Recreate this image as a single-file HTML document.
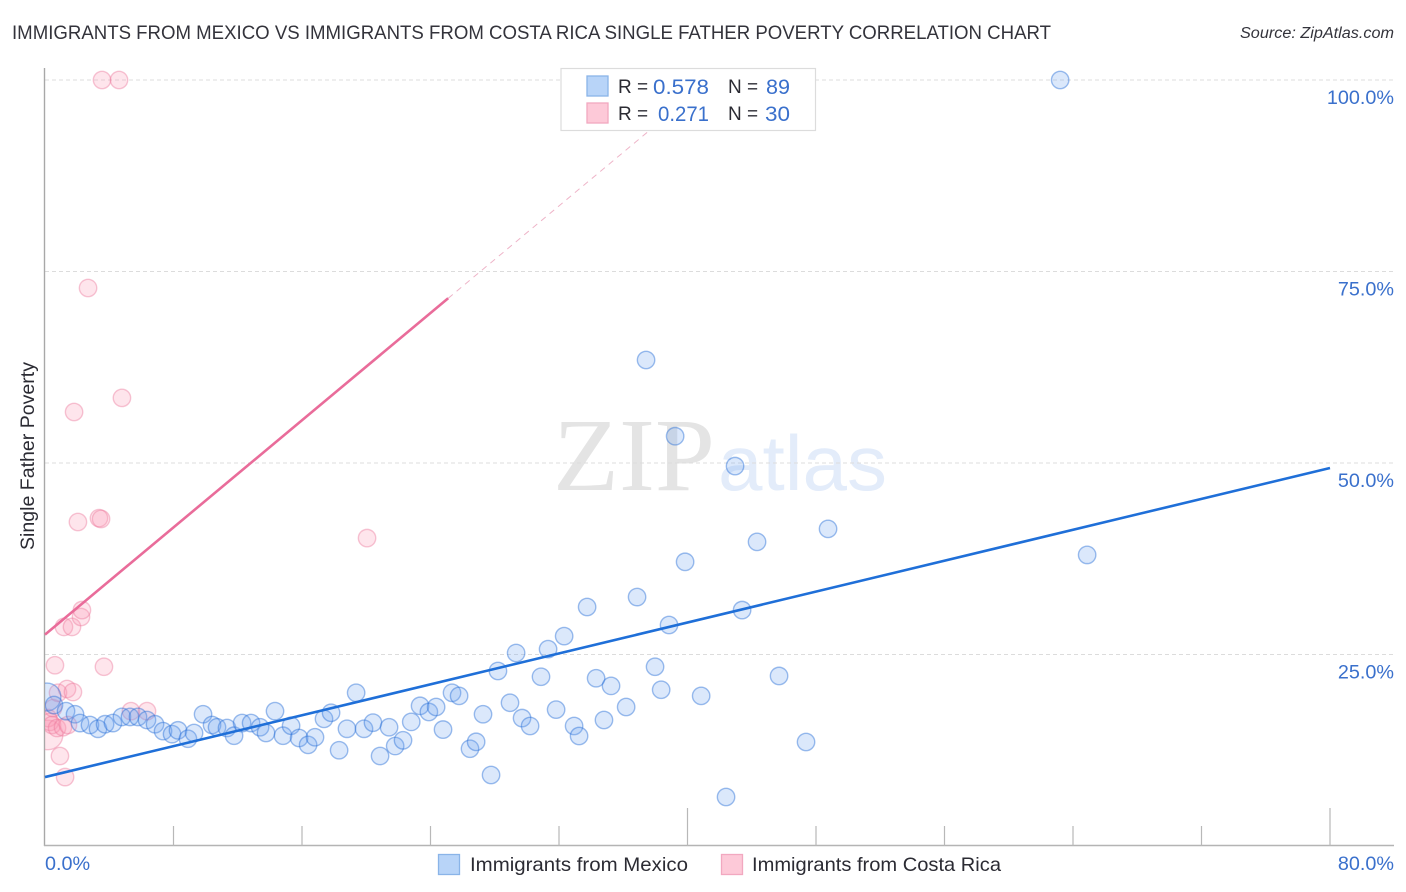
<!DOCTYPE html>
<html lang="en">
<head>
<meta charset="utf-8">
<title>Immigrants from Mexico vs Immigrants from Costa Rica Single Father Poverty Correlation Chart</title>
<style>
html,body{margin:0;padding:0;background:#fff;}
svg{display:block;font-family:"Liberation Sans",sans-serif;}
</style>
</head>
<body>
<svg id="chart" xmlns="http://www.w3.org/2000/svg" width="1406" height="892" viewBox="0 0 1406 892">
  <defs>
    <clipPath id="plot-clip"><rect x="45" y="60" width="1350" height="786"/></clipPath>
  </defs>
  <text x="12" y="39" font-size="19.5" fill="#33333b" textLength="1039" lengthAdjust="spacingAndGlyphs">IMMIGRANTS FROM MEXICO VS IMMIGRANTS FROM COSTA RICA SINGLE FATHER POVERTY CORRELATION CHART</text>
  <text x="1394" y="38" font-size="15.5" font-style="italic" fill="#33333b" text-anchor="end" textLength="154" lengthAdjust="spacingAndGlyphs">Source: ZipAtlas.com</text>
  <text x="553" y="490" font-family="'Liberation Serif',serif" font-size="104" fill="#e4e4e4" textLength="162" lengthAdjust="spacingAndGlyphs">ZIP</text>
  <text x="718" y="490" font-size="78" fill="#e3ecfa" textLength="169" lengthAdjust="spacingAndGlyphs">atlas</text>
  <g id="grid"></g>
  <g id="axes"></g>
  <g id="points" clip-path="url(#plot-clip)"></g>
  <g id="trends"></g>

  <g>
    <rect x="561" y="68.5" width="254.5" height="62" fill="#fff" stroke="#dcdcdc" stroke-width="1.2"/>
    <rect x="587" y="76" width="21" height="20" fill="#b8d4f8" stroke="#8ab4e8" stroke-width="1.3"/>
    <rect x="587" y="103" width="21" height="20" fill="#fdc9d8" stroke="#f2a8c0" stroke-width="1.3"/>
    <text x="618" y="93" font-size="19" fill="#2b2b33">R =</text>
    <text x="653" y="94" font-size="21" fill="#3a70cc" textLength="56" lengthAdjust="spacingAndGlyphs">0.578</text>
    <text x="728" y="93" font-size="19" fill="#2b2b33">N =</text>
    <text x="766" y="94" font-size="21" fill="#3a70cc" textLength="24" lengthAdjust="spacingAndGlyphs">89</text>
    <text x="618" y="120" font-size="19" fill="#2b2b33">R =</text>
    <text x="658" y="121" font-size="21" fill="#3a70cc" textLength="51" lengthAdjust="spacingAndGlyphs">0.271</text>
    <text x="728" y="120" font-size="19" fill="#2b2b33">N =</text>
    <text x="765" y="121" font-size="21" fill="#3a70cc" textLength="25" lengthAdjust="spacingAndGlyphs">30</text>
  </g>

  <g>
    <rect x="438.5" y="854.5" width="21" height="20" fill="#b8d4f8" stroke="#8ab4e8" stroke-width="1.3"/>
    <text x="470" y="871" font-size="19.5" fill="#2b2b33" textLength="218" lengthAdjust="spacingAndGlyphs">Immigrants from Mexico</text>
    <rect x="721.5" y="854.5" width="21" height="20" fill="#fdc9d8" stroke="#f2a8c0" stroke-width="1.3"/>
    <text x="752" y="871" font-size="19.5" fill="#2b2b33" textLength="249" lengthAdjust="spacingAndGlyphs">Immigrants from Costa Rica</text>
  </g>

  <text transform="translate(34,456) rotate(-90)" font-size="19" fill="#2b2b33" text-anchor="middle" textLength="188" lengthAdjust="spacingAndGlyphs">Single Father Poverty</text>
</svg>
<script>
const yTickValues = [25, 50, 75, 100];
const yTickLabels = ['25.0%', '50.0%', '75.0%', '100.0%'];
const xTickValues = [8, 16, 24, 32, 40, 48, 56, 64, 72, 80];
const xMajorTicks = [40, 80];
const xEdgeLabels = ['0.0%', '80.0%'];

const mexicoX = [0.12,0.56,1.31,1.87,2.18,2.8,3.3,3.74,4.23,4.79,5.29,5.79,6.35,6.85,7.35,7.91,8.28,8.9,9.28,9.84,10.4,10.71,11.33,11.77,12.27,12.83,13.39,13.76,14.32,14.82,15.32,15.82,16.38,16.81,17.37,17.81,18.31,18.8,19.37,19.86,20.42,20.86,21.42,21.8,22.29,22.8,23.35,23.9,24.35,24.78,25.34,25.78,26.46,26.84,27.27,27.77,28.2,28.95,29.33,29.7,30.2,30.88,31.32,31.82,32.32,32.94,33.25,33.75,34.31,34.8,35.24,36.18,36.86,37.42,37.98,38.36,38.85,39.23,39.85,40.85,42.4,42.96,43.4,44.33,45.7,47.38,48.75,63.2,64.88];
const mexicoY = [19.45,18.4,17.6,17.2,16.05,15.8,15.3,15.9,16.05,16.85,16.85,16.85,16.45,15.9,15.0,14.6,15.1,14.0,14.75,17.2,15.8,15.5,15.4,14.4,16.05,16.05,15.5,14.75,17.6,14.4,15.7,14.1,13.2,14.2,16.6,17.4,12.5,15.3,20.0,15.3,16.1,11.75,15.5,13.05,13.8,16.2,18.3,17.5,18.15,15.2,20.0,19.6,12.7,13.6,17.2,9.27,22.85,18.7,25.2,16.7,15.67,22.1,25.7,17.8,27.4,15.67,14.36,31.2,21.9,16.45,20.9,18.15,32.5,63.45,23.4,20.4,28.85,53.5,37.1,19.6,6.4,49.6,30.8,39.7,22.2,13.58,41.4,100,38.0];
const mexicoSizes = [1.6];

const costaRicaX = [0.19,0.19,0.31,0.44,0.5,0.62,0.75,0.81,0.93,1.12,1.18,1.25,1.37,1.43,1.68,1.74,1.81,2.05,2.24,2.3,2.68,3.36,3.49,3.55,3.67,4.61,4.79,5.35,6.35,20.05];
const costaRicaY = [14.5,16.7,16.2,15.8,18.0,23.6,15.4,20.0,11.75,15.5,28.6,9.0,20.5,15.8,28.6,20.1,56.66,42.3,29.9,30.8,72.85,42.8,42.7,100,23.4,100,58.5,17.6,17.6,40.2];
const costaRicaSizes = [1.7];

const mexicoTrendX = [0, 80];
const mexicoTrendY = [9.0, 49.35];
const costaRicaTrendX = [0, 25.1];
const costaRicaTrendY = [27.6, 71.5];
const costaRicaDashEndX = [41.4];
const costaRicaDashEndY = [100];

const NS = 'http://www.w3.org/2000/svg';
const xScale = function (v) { return 45 + v * 16.0625; };
const yScale = function (v) { return 846 - v * 7.66; };
const make = function (parent, tag, props, content) {
  const node = document.createElementNS(NS, tag);
  Object.keys(props).forEach(function (k) { node.setAttribute(k, props[k]); });
  if (content !== undefined) node.textContent = content;
  parent.appendChild(node);
  return node;
};

const gridGroup = document.getElementById('grid');
const axesGroup = document.getElementById('axes');
const pointsGroup = document.getElementById('points');
const trendsGroup = document.getElementById('trends');

yTickValues.forEach(function (v, i) {
  const line = make(gridGroup, 'line', {x1: 45, x2: 1394, y1: yScale(v), y2: yScale(v), stroke: '#dcdcdc', 'stroke-width': 1, 'stroke-dasharray': '4 3'});
  
  
  const label = make(axesGroup, 'text', {x: 1394, y: yScale(v) + 24, 'font-size': 19.8, fill: '#3a70cc', 'text-anchor': 'end'}, yTickLabels[i]);
  
  
});

const yAxisLine = make(axesGroup, 'line', {x1: 44.5, x2: 44.5, y1: 68, y2: 846, stroke: '#a8a8a8', 'stroke-width': 1.4});


const xAxisLine = make(axesGroup, 'line', {x1: 44, x2: 1394, y1: 845.5, y2: 845.5, stroke: '#b4b4b4', 'stroke-width': 1.4});



xTickValues.forEach(function (v) {
  const top = xMajorTicks.indexOf(v) >= 0 ? 808 : 826;
  const tick = make(axesGroup, 'line', {x1: xScale(v), x2: xScale(v), y1: top, y2: 846, stroke: '#b8b8b8', 'stroke-width': 1.2});
  
  
});

const xLabelLeft = make(axesGroup, 'text', {x: 45, y: 870, 'font-size': 19.8, fill: '#3a70cc'}, xEdgeLabels[0]);


const xLabelRight = make(axesGroup, 'text', {x: 1394, y: 870, 'font-size': 19.8, fill: '#3a70cc', 'text-anchor': 'end'}, xEdgeLabels[1]);



const baseRadius = 8.7;

costaRicaX.forEach(function (x, i) {
  const scale = costaRicaSizes[i] || 1;
  const dot = make(pointsGroup, 'circle', {cx: xScale(x), cy: yScale(costaRicaY[i]), r: baseRadius * scale, fill: 'rgba(250,150,180,0.25)', stroke: 'rgba(235,120,155,0.42)', 'stroke-width': 1.4});
  
  
});

mexicoX.forEach(function (x, i) {
  const scale = mexicoSizes[i] || 1;
  const dot = make(pointsGroup, 'circle', {cx: xScale(x), cy: yScale(mexicoY[i]), r: baseRadius * scale, fill: 'rgba(110,165,240,0.25)', stroke: 'rgba(40,110,215,0.45)', 'stroke-width': 1.4});
  
  
});

const dashLine = make(trendsGroup, 'line', {x1: xScale(costaRicaTrendX[1]), y1: yScale(costaRicaTrendY[1]), x2: xScale(costaRicaDashEndX[0]), y2: yScale(costaRicaDashEndY[0]), stroke: '#eeb4c8', 'stroke-width': 1, 'stroke-dasharray': '6 5'});


const pinkLine = make(trendsGroup, 'line', {x1: xScale(costaRicaTrendX[0]), y1: yScale(costaRicaTrendY[0]), x2: xScale(costaRicaTrendX[1]), y2: yScale(costaRicaTrendY[1]), stroke: '#e96c9a', 'stroke-width': 2.6});


const blueLine = make(trendsGroup, 'line', {x1: xScale(mexicoTrendX[0]), y1: yScale(mexicoTrendY[0]), x2: xScale(mexicoTrendX[1]), y2: yScale(mexicoTrendY[1]), stroke: '#1f6fd8', 'stroke-width': 2.6});


</script>
</body>
</html>
